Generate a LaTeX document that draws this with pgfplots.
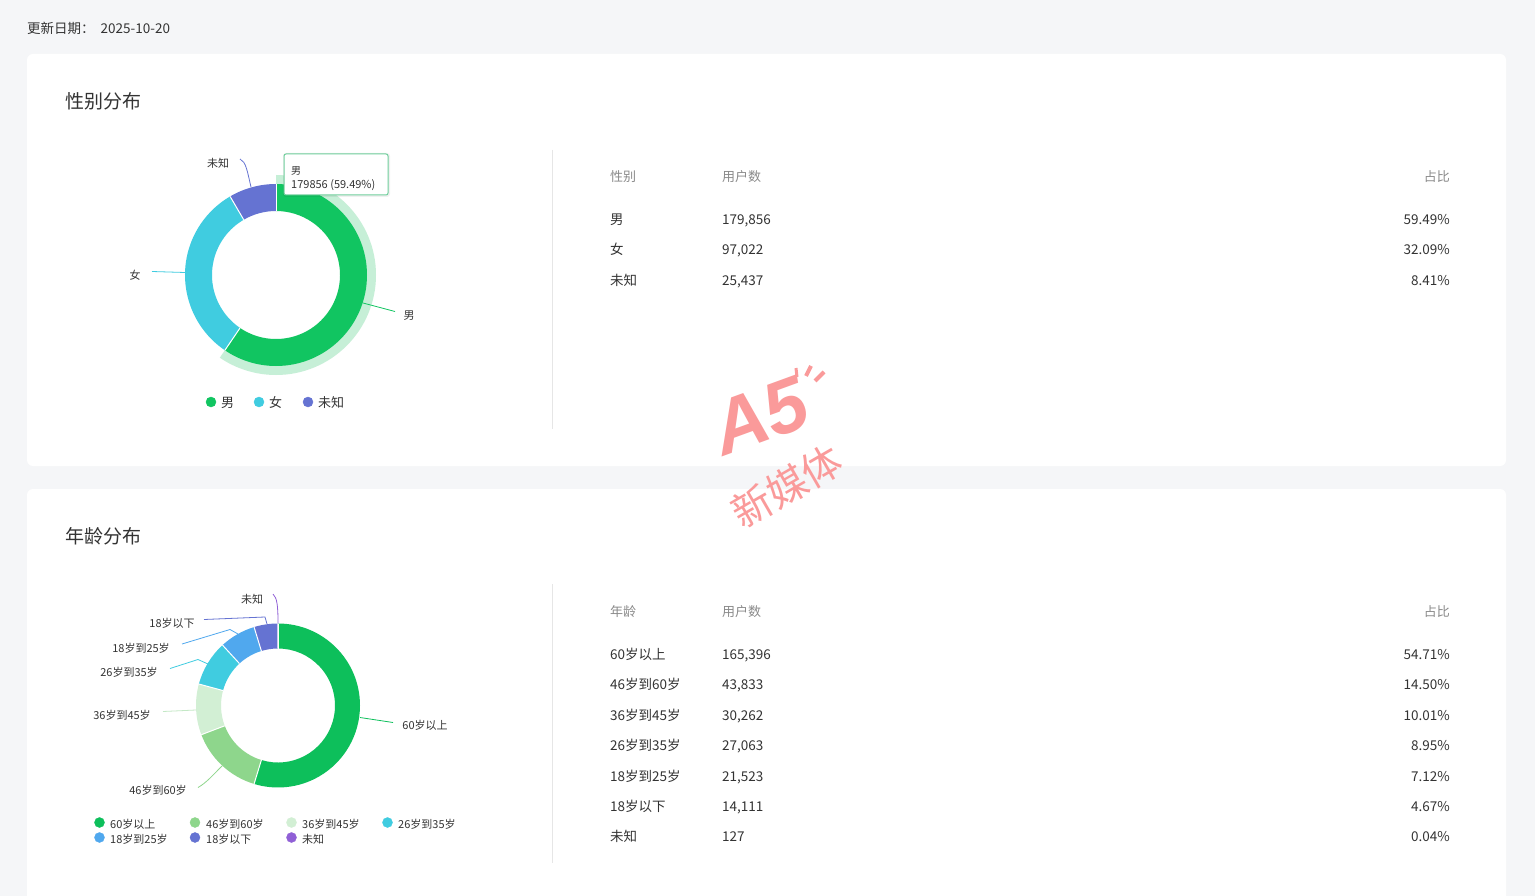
\documentclass[border=0pt]{standalone}
\usepackage{pgfplots}
\pgfplotsset{compat=1.18}
\usepackage{pgfplotstable}
\usepackage{fontspec}
\setmainfont{Noto Sans CJK SC}
\newfontfamily\wmfont{Liberation Sans}
\definecolor{bg}{HTML}{F5F6F8}
\definecolor{c333}{HTML}{333333}
\definecolor{cgray}{HTML}{8A8A8A}
\definecolor{csep}{HTML}{E6E6E6}
\definecolor{gM}{HTML}{11C561}
\definecolor{gF}{HTML}{40CCE0}
\definecolor{gU}{HTML}{6573D2}
\definecolor{band}{HTML}{C6EFD7}
\definecolor{tipb}{HTML}{6FCF9C}
\definecolor{a1}{HTML}{0DBF5B}
\definecolor{a2}{HTML}{8ED68C}
\definecolor{a3}{HTML}{D2EFD4}
\definecolor{a3l}{HTML}{C4E8C6}
\definecolor{a4}{HTML}{40CCE0}
\definecolor{a5}{HTML}{50A8EE}
\definecolor{a6}{HTML}{6573D2}
\definecolor{a7}{HTML}{9060D6}
\definecolor{wm}{HTML}{FA9A9A}

\tikzset{
  tx/.style={inner sep=0pt, text height=0.88em, text depth=0.12em, yshift=-2pt},
  lbl/.style={tx, font=\fontsize{11}{13}\selectfont, text=c333},
  lg/.style={tx, font=\fontsize{13}{15}\selectfont, text=c333, anchor=west},
  lg2/.style={tx, font=\fontsize{11}{13}\selectfont, text=c333, anchor=west},
  th/.style={tx, font=\fontsize{13}{15}\selectfont, text=cgray},
  td/.style={tx, font=\fontsize{13.5}{16}\selectfont, text=c333}}

\pgfplotstableread[col sep=comma]{
name,value,color
男,179856,gM
女,97022,gF
未知,25437,gU
}\gendertab
\pgfplotstableread[col sep=comma]{
name,value,color
60岁以上,165396,a1
46岁到60岁,43833,a2
36岁到45岁,30262,a3
26岁到35岁,27063,a4
18岁到25岁,21523,a5
18岁以下,14111,a6
未知,127,a7
}\agetab

\newcommand\donut[5]{%
  \pgfplotstablegetrowsof{#1}%
  \pgfmathtruncatemacro\lastrow{\pgfplotsretval-1}%
  \gdef\dsum{0}%
  \foreach \i in {0,...,\lastrow}{%
    \pgfplotstablegetelem{\i}{value}\of{#1}%
    \xdef\dsum{\fpeval{\dsum+\pgfplotsretval}}}%
  \gdef\acur{90}%
  \foreach \i in {0,...,\lastrow}{%
    \pgfplotstablegetelem{\i}{value}\of{#1}\let\sv\pgfplotsretval
    \pgfplotstablegetelem{\i}{color}\of{#1}\let\scol\pgfplotsretval
    \edef\anew{\fpeval{\acur-360*\sv/\dsum}}%
    \fill[fill=\scol] ([shift={(\acur:#5pt)}]axis cs:#2,#3) arc[start angle=\acur, end angle=\anew, radius=#5pt] -- ([shift={(\anew:#4pt)}]axis cs:#2,#3) arc[start angle=\anew, end angle=\acur, radius=#4pt] -- cycle;
    \xdef\acur{\anew}}%
  \gdef\acur{90}%
  \foreach \i in {0,...,\lastrow}{%
    \pgfplotstablegetelem{\i}{value}\of{#1}\let\sv\pgfplotsretval
    \edef\anew{\fpeval{\acur-360*\sv/\dsum}}%
    \draw[white, line width=1pt] ([shift={(\anew:#4pt)}]axis cs:#2,#3) -- ([shift={(\anew:#5pt)}]axis cs:#2,#3);
    \xdef\acur{\anew}}%
}

\begin{document}
\begin{tikzpicture}
\begin{axis}[x=1pt, y=1pt, y dir=reverse, xmin=0, xmax=1535, ymin=0, ymax=896,
  hide axis, scale only axis, clip=false]
% background and cards
\fill[bg] (axis cs:0,0) rectangle (axis cs:1535,896);
\fill[white, rounded corners=6pt] (axis cs:27,54) rectangle (axis cs:1506,466);
\fill[white] (axis cs:27,896) [rounded corners=6pt] -- (axis cs:27,489) -- (axis cs:1506,489) [sharp corners] -- (axis cs:1506,896) -- cycle;
\draw[csep, line width=1pt] (axis cs:552.5,150) -- (axis cs:552.5,429);
\draw[csep, line width=1pt] (axis cs:552.5,584) -- (axis cs:552.5,863);
% header texts
\node[tx, anchor=west, font=\fontsize{13.5}{15}\selectfont, text=c333] at (axis cs:27,28) {更新日期：\hspace{6pt}2025-10-20};
\node[tx, anchor=west, font=\fontsize{19}{22}\selectfont, text=c333, yshift=-2pt] at (axis cs:65,101) {性别分布};
\node[tx, anchor=west, font=\fontsize{19}{22}\selectfont, text=c333, yshift=-2pt] at (axis cs:65,536) {年龄分布};

% gender donut
\fill[band] ([shift={(90:100pt)}]axis cs:276,275) arc[start angle=90, end angle=-124.2, radius=100pt] -- ([shift={(-124.2:88pt)}]axis cs:276,275) arc[start angle=-124.2, end angle=90, radius=88pt] -- cycle;
\pgfplotsextra{\donut{\gendertab}{276}{275}{64}{91}}
% gender leader lines and labels
\draw[gU, line width=0.8pt] (axis cs:251,187) .. controls (axis cs:247,170) and (axis cs:246,162) .. (axis cs:240,159);
\node[lbl] at (axis cs:218,162) {未知};
\draw[gF, line width=0.8pt] (axis cs:185,272.5) -- (axis cs:152,271.5);
\node[lbl] at (axis cs:135,274) {女};
\draw[gM, line width=0.8pt] (axis cs:363,303) -- (axis cs:395,311.5);
\node[lbl] at (axis cs:409,314) {男};
% tooltip
\fill[black, opacity=0.06, rounded corners=3pt] (axis cs:283,153) rectangle (axis cs:390,197);
\draw[tipb, fill=white, line width=1pt, rounded corners=2pt] (axis cs:284,154) rectangle (axis cs:388,195);
\node[tx, anchor=west, font=\fontsize{10}{12}\selectfont, text=c333] at (axis cs:291,169) {男};
\node[tx, anchor=west, font=\fontsize{11}{12}\selectfont, text=c333] at (axis cs:291,182.5) {179856 (59.49\%)};
% gender legend
\addplot[only marks, mark=*, mark size=5, color=gM] coordinates {(211,402)};
\addplot[only marks, mark=*, mark size=5, color=gF] coordinates {(259,402)};
\addplot[only marks, mark=*, mark size=5, color=gU] coordinates {(308,402)};
\node[lg] at (axis cs:221,402) {男};
\node[lg] at (axis cs:269,402) {女};
\node[lg] at (axis cs:318,402) {未知};

% gender table
\node[th, anchor=west] at (axis cs:610,176) {性别};
\node[th, anchor=west] at (axis cs:722,176) {用户数};
\node[th, anchor=east] at (axis cs:1450,176) {占比};
\node[td, anchor=west] at (axis cs:610,219) {男};
\node[td, anchor=west] at (axis cs:722,219) {179,856};
\node[td, anchor=east] at (axis cs:1450,219) {59.49\%};
\node[td, anchor=west] at (axis cs:610,249) {女};
\node[td, anchor=west] at (axis cs:722,249) {97,022};
\node[td, anchor=east] at (axis cs:1450,249) {32.09\%};
\node[td, anchor=west] at (axis cs:610,280) {未知};
\node[td, anchor=west] at (axis cs:722,280) {25,437};
\node[td, anchor=east] at (axis cs:1450,280) {8.41\%};

% age donut
\pgfplotsextra{\donut{\agetab}{278}{705.5}{57}{82}}
% age leader lines
\draw[a7, line width=0.8pt] (axis cs:278,623) .. controls (axis cs:278,605) and (axis cs:277,598) .. (axis cs:273,594);
\node[lbl] at (axis cs:252,598) {未知};
\draw[a6, line width=0.8pt] (axis cs:267,624) -- (axis cs:265,617) -- (axis cs:204,619.5);
\node[lbl] at (axis cs:172,622) {18岁以下};
\draw[a5, line width=0.8pt] (axis cs:238,634) -- (axis cs:230,629.5) -- (axis cs:182,644);
\node[lbl] at (axis cs:141,647) {18岁到25岁};
\draw[a4, line width=0.8pt] (axis cs:208,664) -- (axis cs:198,659.5) -- (axis cs:170,668.5);
\node[lbl] at (axis cs:129,671) {26岁到35岁};
\draw[a3l, line width=0.8pt] (axis cs:196,710) -- (axis cs:163,711.5);
\node[lbl] at (axis cs:122,714) {36岁到45岁};
\draw[a2, line width=0.8pt] (axis cs:222,766) .. controls (axis cs:212,776) and (axis cs:206,783) .. (axis cs:198,787.5);
\node[lbl] at (axis cs:158,789) {46岁到60岁};
\draw[a1, line width=0.8pt] (axis cs:360,717.5) -- (axis cs:393,722.5);
\node[lbl] at (axis cs:425,724) {60岁以上};
% age legend
\addplot[only marks, mark=*, mark size=5, color=a1] coordinates {(99.5,822.5)};
\addplot[only marks, mark=*, mark size=5, color=a2] coordinates {(195,822.5)};
\addplot[only marks, mark=*, mark size=5, color=a3] coordinates {(291.5,822.5)};
\addplot[only marks, mark=*, mark size=5, color=a4] coordinates {(387.5,822.5)};
\addplot[only marks, mark=*, mark size=5, color=a5] coordinates {(99.5,837.5)};
\addplot[only marks, mark=*, mark size=5, color=a6] coordinates {(195,837.5)};
\addplot[only marks, mark=*, mark size=5, color=a7] coordinates {(291.5,837.5)};
\node[lg2] at (axis cs:110,823) {60岁以上};
\node[lg2] at (axis cs:206,823) {46岁到60岁};
\node[lg2] at (axis cs:302,823) {36岁到45岁};
\node[lg2] at (axis cs:398,823) {26岁到35岁};
\node[lg2] at (axis cs:110,838) {18岁到25岁};
\node[lg2] at (axis cs:206,838) {18岁以下};
\node[lg2] at (axis cs:302,838) {未知};

% age table
\node[th, anchor=west] at (axis cs:610,611) {年龄};
\node[th, anchor=west] at (axis cs:722,611) {用户数};
\node[th, anchor=east] at (axis cs:1450,611) {占比};
\node[td, anchor=west] at (axis cs:610,654) {60岁以上};
\node[td, anchor=west] at (axis cs:722,654) {165,396};
\node[td, anchor=east] at (axis cs:1450,654) {54.71\%};
\node[td, anchor=west] at (axis cs:610,684) {46岁到60岁};
\node[td, anchor=west] at (axis cs:722,684) {43,833};
\node[td, anchor=east] at (axis cs:1450,684) {14.50\%};
\node[td, anchor=west] at (axis cs:610,715) {36岁到45岁};
\node[td, anchor=west] at (axis cs:722,715) {30,262};
\node[td, anchor=east] at (axis cs:1450,715) {10.01\%};
\node[td, anchor=west] at (axis cs:610,745) {26岁到35岁};
\node[td, anchor=west] at (axis cs:722,745) {27,063};
\node[td, anchor=east] at (axis cs:1450,745) {8.95\%};
\node[td, anchor=west] at (axis cs:610,776) {18岁到25岁};
\node[td, anchor=west] at (axis cs:722,776) {21,523};
\node[td, anchor=east] at (axis cs:1450,776) {7.12\%};
\node[td, anchor=west] at (axis cs:610,806) {18岁以下};
\node[td, anchor=west] at (axis cs:722,806) {14,111};
\node[td, anchor=east] at (axis cs:1450,806) {4.67\%};
\node[td, anchor=west] at (axis cs:610,836) {未知};
\node[td, anchor=west] at (axis cs:722,836) {127};
\node[td, anchor=east] at (axis cs:1450,836) {0.04\%};

% watermark
\node[rotate=20, text=wm, inner sep=0pt, font=\wmfont\bfseries\itshape\fontsize{76}{76}\selectfont] at (axis cs:760,416) {A5};
\draw[wm, line width=4pt] (axis cs:806,376) -- (axis cs:811,366);
\draw[wm, line width=4pt] (axis cs:815,381) -- (axis cs:824,372);
\draw[wm, line width=3pt] (axis cs:797,377) -- (axis cs:796,368);
\node[rotate=30, text=wm, inner sep=0pt, font=\fontsize{40}{40}\selectfont] at (axis cs:787,486) {新媒体};
\end{axis}
\end{tikzpicture}
\end{document}
